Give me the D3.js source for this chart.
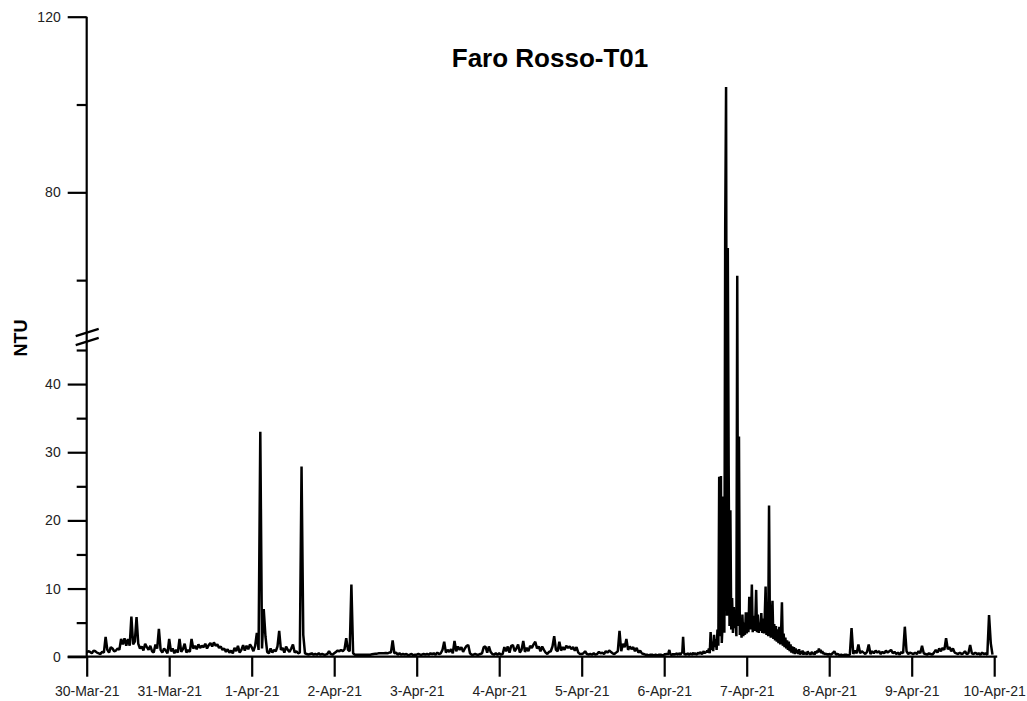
<!DOCTYPE html>
<html>
<head>
<meta charset="utf-8">
<script src="https://cdn.jsdelivr.net/npm/d3@7"></script>
<style>
  html, body { margin: 0; padding: 0; background: #fff; }
  svg { display: block; }
  text { font-family: "Liberation Sans", Arial, sans-serif; }
</style>
</head>
<body>
<svg id="chart" width="1027" height="701"></svg>
<script>
// ---- Data: NTU readings, one array per day (30-min steps; 15-min on 6-7 Apr) ----
const startDate = "2021-03-30";
const endDate = "2021-04-10";
const mar30 = [0.6,0.8,0.7,0.5,0.9,0.8,0.6,0.5,0.4,0.7,0.6,2.9,1.0,0.6,1.4,1.2,0.8,0.9,1.2,1.0,2.6,1.8,2.7,1.6,2.6,1.6,5.9,1.8,2.2,5.8,1.9,1.2,1.5,0.9,1.9,1.4,1.0,1.6,0.8,0.6,1.8,1.2,4.1,1.0,0.6,1.2,0.9,0.5];
const mar31 = [2.6,0.8,1.2,0.5,1.0,0.6,2.6,0.7,1.1,1.9,0.6,1.0,0.7,2.6,1.2,1.6,1.1,1.8,1.3,1.6,1.4,1.9,1.2,1.7,2.0,1.5,2.1,1.6,1.8,1.3,1.5,1.0,1.2,0.7,1.1,0.6,0.9,0.5,1.3,0.8,1.6,0.6,1.0,1.7,0.9,1.6,1.1,1.8];
const apr01 = [1.4,0.8,1.6,3.5,1.0,33.0,1.2,7.0,3.0,0.7,0.5,1.2,0.6,1.0,0.8,1.5,3.8,1.0,1.3,0.6,1.5,1.0,0.7,1.2,1.8,0.6,0.8,0.5,0.6,27.9,3.2,0.5,0.4,0.3,0.4,0.5,0.3,0.4,0.3,0.5,0.3,0.4,0.3,0.3,0.4,0.8,0.4,0.3];
const apr02 = [0.5,0.7,0.9,0.8,1.0,0.8,1.1,2.7,1.0,0.8,10.6,0.5,0.3,0.3,0.3,0.3,0.3,0.3,0.3,0.3,0.3,0.3,0.35,0.4,0.45,0.45,0.5,0.5,0.5,0.5,0.55,0.5,0.6,0.6,2.4,0.5,0.6,0.3,0.5,0.3,0.4,0.3,0.4,0.2,0.3,0.4,0.2,0.3];
const apr03 = [0.3,0.4,0.3,0.3,0.4,0.3,0.4,0.3,0.5,0.4,0.5,0.3,0.6,0.4,0.5,1.0,2.2,0.6,1.0,0.7,1.1,0.5,2.3,0.8,1.5,1.0,1.4,0.7,1.2,1.6,1.7,0.5,0.3,0.3,0.4,0.3,0.3,0.4,0.5,1.4,1.5,0.6,1.5,0.7,0.4,0.3,0.5,0.3];
const apr04 = [0.5,0.3,0.4,1.4,0.8,1.5,0.6,1.6,1.7,0.8,1.2,1.8,0.6,1.0,2.3,0.7,1.3,0.8,1.6,1.3,1.8,2.2,1.2,1.5,0.8,1.5,1.0,0.6,0.4,0.7,0.8,1.5,3.0,1.0,0.8,2.2,0.9,1.4,1.0,1.6,1.3,1.5,1.1,1.4,0.9,1.4,0.6,0.4];
const apr05 = [0.4,0.5,0.8,0.4,0.3,0.4,0.3,0.5,0.3,0.4,0.7,0.5,0.6,0.4,0.8,0.6,0.9,0.7,0.5,0.4,0.6,0.8,3.8,0.8,1.9,1.4,2.6,1.0,1.5,1.1,1.4,0.8,1.3,0.6,0.9,0.5,0.4,0.3,0.3,0.2,0.3,0.3,0.2,0.3,0.2,0.3,0.3,0.2];
const apr06 = [0.3,0.4,0.3,0.5,0.3,0.6,1.0,0.4,0.3,0.3,0.4,0.3,0.4,0.3,0.5,0.4,0.3,0.5,0.4,0.3,0.6,0.5,
  2.9,
  0.6,0.3,0.4,0.3,0.5,0.4,0.3,0.4,0.5,0.3,0.4,0.6,0.3,0.5,0.4,0.3,0.5,0.6,0.4,0.7,0.5,0.4,0.6,0.8,0.5,0.7,0.6,0.9,0.6,
  1.2,0.5,3.6,1.0,2.2,0.8,3.2,1.4,2.6,1.0,4.0,1.6,26.4,3.0,26.5,2.0,5.0,23.5,3.5,72.5,104,6.0,67.3,28.0,4.5,21.5,4.0,8.6,3.5,7.3,4.2,6.0,3.0,61,4.5,32.3,3.2,5.5,2.8,6.2,3.0,5.0,3.2,6.5];
const apr07 = [3.4,6.5,3.6,8.8,4.0,5.5,10.6,3.6,6.0,3.8,5.2,9.8,3.6,6.2,3.5,5.0,3.8,6.4,3.5,5.6,
  3.4,6.0,10.3,3.2,7.0,3.0,22.2,4.2,2.8,5.4,8.2,2.6,4.8,2.4,4.5,2.2,4.0,2.0,4.4,1.8,
  3.6,8.0,1.6,3.4,1.4,2.8,1.2,2.4,1.0,2.2,0.8,1.8,0.6,1.5,0.5,1.4,0.4,1.2,0.5,1.0,
  0.4,1.1,0.3,0.8,0.4,0.9,0.3,0.7,0.4,0.6,0.3,0.8,0.4,0.6,0.3,0.5,0.7,0.4,0.6,0.3,
  0.8,0.5,0.9,0.6,1.2,0.7,1.0,0.5,0.8,0.4,0.6,0.3,0.5,0.3,0.4,0.3];
const apr08 = [0.4,0.3,0.5,0.8,0.3,0.4,0.2,0.3,0.2,0.3,0.3,0.2,0.3,4.2,0.4,0.9,0.5,1.8,0.5,0.8,0.6,0.4,0.7,1.8,0.4,0.8,0.5,0.9,0.6,0.8,0.4,0.7,0.5,0.9,0.6,0.8,1.0,0.5,0.7,0.4,0.6,0.3,0.7,0.5,4.4,0.8,0.4,0.6];
const apr09 = [0.5,0.4,0.6,0.4,0.8,0.5,1.6,0.5,0.4,0.3,0.5,0.4,0.3,0.6,1.0,0.6,1.2,0.8,1.3,1.0,2.7,1.1,1.4,0.8,1.2,0.6,0.5,0.4,0.6,0.4,0.5,0.8,0.4,0.5,1.7,0.5,0.4,0.6,0.4,0.5,0.3,0.6,0.4,0.5,0.3,6.1,2.0,0.3];
const days = [mar30, mar31, apr01, apr02, apr03, apr04, apr05, apr06, apr07, apr08, apr09];

// ---- Axis ticks ----
const yMajorTicks = [0, 10, 20, 30, 40, 80, 120];
const yMinorTicks = [5, 15, 25, 35, 45, 60, 100];
const yBreakValue = 45;   // axis is broken here: lower part 0-45, upper part 45-120
const yMax = 120;
const title = "Faro Rosso-T01";
const yTitle = "NTU";

// ---- Build series ----
const t0 = new Date(startDate + "T00:00:00Z");
const series = [];
days.forEach((arr, d) => {
  const step = 24 * 3600 * 1000 / arr.length;
  arr.forEach((v, i) => {
    series.push({ t: new Date(t0.getTime() + d * 86400000 + i * step), v });
  });
});

const svg = d3.select("#chart");
const x = d3.scaleUtc()
  .domain([t0, new Date(endDate + "T00:00:00Z")])
  .range([86.7, 994.2]);
// piecewise scale: lower segment 0-45, small gap, upper segment 45-120
const y = d3.scaleLinear()
  .domain([0, yBreakValue, yBreakValue + 1e-6, yMax])
  .range([656.7, 350, 346, 16.7]);

// Data line
svg.append("path")
  .datum(series)
  .attr("fill", "none")
  .attr("stroke", "#000")
  .attr("stroke-width", 2.5)
  .attr("stroke-linejoin", "bevel")
  .attr("d", d3.line().x(d => x(d.t)).y(d => y(d.v)));

const ax = x(t0);
// Y axis (major ticks with labels)
const gy = svg.append("g").attr("transform", `translate(${ax},0)`);
gy.call(d3.axisLeft(y).tickValues(yMajorTicks).tickSize(19).tickSizeOuter(0).tickPadding(7).tickFormat(d3.format("d")));
gy.select(".domain").remove();
gy.selectAll(".tick line").attr("stroke", "#000").attr("stroke-width", 2.2);
gy.selectAll(".tick text").attr("font-size", 14).attr("fill", "#222")
  .style("font-family", "'Liberation Sans', Arial, sans-serif");
// minor ticks
const gym = svg.append("g").attr("transform", `translate(${ax},0)`);
gym.call(d3.axisLeft(y).tickValues(yMinorTicks).tickSize(10).tickSizeOuter(0).tickFormat(""));
gym.select(".domain").remove();
gym.selectAll(".tick line").attr("stroke", "#000").attr("stroke-width", 2.2);
// axis spine
svg.append("line")
  .attr("x1", ax).attr("x2", ax)
  .attr("y1", y(yMax)).attr("y2", y(0))
  .attr("stroke", "#000").attr("stroke-width", 2.2);

// Break marks
[332.5, 341.5].forEach(cy => {
  svg.append("line")
    .attr("x1", ax - 11).attr("y1", cy + 3.6)
    .attr("x2", ax + 12).attr("y2", cy - 3.6)
    .attr("stroke", "#000").attr("stroke-width", 2.2);
});

// X axis
const gx = svg.append("g").attr("transform", `translate(0,${y(0)})`);
gx.call(d3.axisBottom(x).ticks(d3.utcDay.every(1)).tickSize(20).tickSizeOuter(0).tickPadding(9.5)
  .tickFormat(d3.utcFormat("%-d-%b-%y")));
gx.select(".domain").remove();
gx.selectAll(".tick line").attr("stroke", "#000").attr("stroke-width", 2.2);
gx.selectAll(".tick text").attr("font-size", 14).attr("fill", "#222")
  .style("font-family", "'Liberation Sans', Arial, sans-serif");
svg.append("line")
  .attr("x1", ax - 19).attr("x2", x.range()[1] + 3)
  .attr("y1", y(0)).attr("y2", y(0))
  .attr("stroke", "#000").attr("stroke-width", 2.2);

// Title
svg.append("text")
  .attr("x", 550).attr("y", 67)
  .attr("text-anchor", "middle")
  .attr("font-size", 26).attr("font-weight", "bold")
  .text(title);

// Y axis title
svg.append("text")
  .attr("transform", "translate(27,338) rotate(-90)")
  .attr("text-anchor", "middle")
  .attr("font-size", 18).attr("font-weight", "bold")
  .text(yTitle);
</script>
</body>
</html>
